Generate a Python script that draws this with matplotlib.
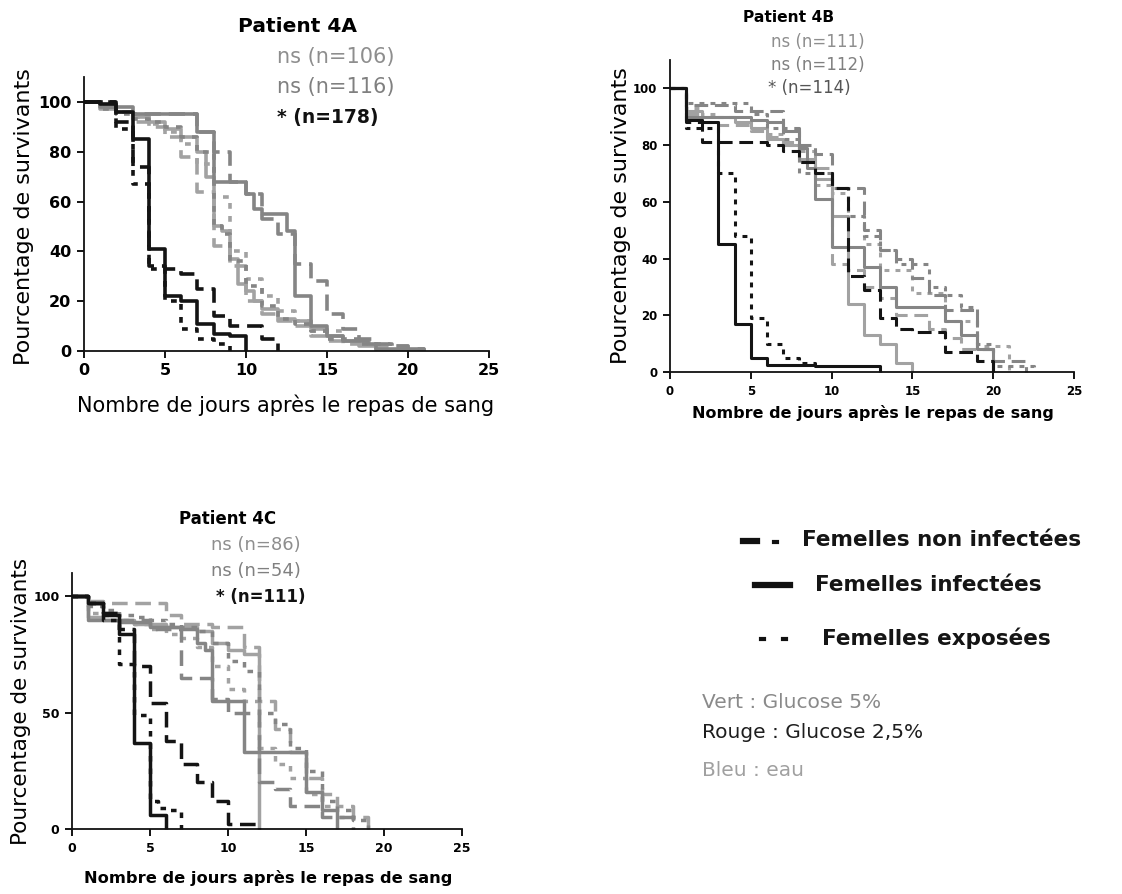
import matplotlib
matplotlib.use("Agg")
from matplotlib import pyplot as plt
from matplotlib.lines import Line2D

W, H = 1122, 894

# colours of the scanned (greyscale) figure
GREEN = "#858585"   # Vert : Glucose 5%
RED = "#141414"     # Rouge : Glucose 2,5%
BLUE = "#a2a2a2"    # Bleu : eau

days_ticks = [0, 5, 10, 15, 20, 25]

# ---------------- Patient 4A ----------------
a_red_inf_d = [0, 1, 2, 3, 4, 5, 6, 7, 8, 9, 10]
a_red_inf_s = [100, 99, 96, 85, 41, 22, 20, 11, 7, 6, 0]
a_red_non_d = [0, 2, 3, 4, 5, 6, 7, 8, 9, 10, 11, 12]
a_red_non_s = [100, 92, 74, 34, 33, 31, 25, 14, 10, 10, 5, 0]
a_red_exp_d = [0, 2, 3, 4, 5, 6, 7, 8, 9]
a_red_exp_s = [100, 89, 67, 33, 20, 9, 5, 3, 0]

a_grn_inf_d = [0, 1, 3, 7, 8, 10, 10.5, 11, 12.5, 13, 14, 15, 16, 17.5, 18, 21]
a_grn_inf_s = [100, 98, 95, 88, 68, 63, 57, 55, 48, 22, 10, 6, 4, 3, 1, 0]
a_grn_non_d = [0, 1, 2, 3, 7, 8, 9, 10, 11, 12, 13, 14, 15, 16, 17, 18, 19, 20, 21]
a_grn_non_s = [100, 98, 96, 95, 88, 80, 68, 63, 53, 47, 35, 28, 15, 9, 5, 3, 2, 1, 0]
a_grn_exp_d = [0, 1, 2, 3, 4, 5, 6, 7, 8, 8.5, 9, 10, 11, 12, 13, 14, 15, 17, 19]
a_grn_exp_s = [100, 97, 95, 93, 92, 90, 86, 80, 50, 47, 36, 26, 18, 13, 11, 8, 5, 3, 0]

a_blu_inf_d = [0, 1, 2, 3, 4, 5, 6, 7, 7.5, 8, 8.5, 9, 9.5, 10, 10.5, 11, 12, 13, 14, 15, 16, 17, 18]
a_blu_inf_s = [100, 97, 96, 94, 92, 89, 86, 80, 70, 50, 48, 37, 27, 24, 20, 17, 13, 12, 9, 6, 4, 2, 0]
a_blu_non_d = [0, 1, 2, 3, 4, 5, 6, 7, 8, 9, 10, 11, 12, 13, 14, 15, 16, 18, 20]
a_blu_non_s = [100, 98, 96, 92, 90, 86, 78, 64, 42, 34, 20, 15, 12, 10, 6, 4, 3, 2, 0]
a_blu_exp_d = [0, 1, 2, 3, 4, 5, 6, 7, 8, 9, 10, 11, 12, 13, 14, 16, 18]
a_blu_exp_s = [100, 99, 96, 94, 91, 88, 83, 75, 62, 40, 29, 22, 16, 12, 8, 4, 0]

# ---------------- Patient 4B ----------------
b_red_inf_d = [0, 1, 2, 3, 4, 5, 6, 9, 13]
b_red_inf_s = [100, 89, 88, 45, 17, 5, 2.5, 2, 0]
b_red_exp_d = [0, 1, 2, 3, 4, 5, 6, 7, 8, 9]
b_red_exp_s = [100, 86, 86, 70, 48, 19, 10, 5, 3, 0]
b_red_non_d = [0, 1, 2, 5, 6, 7, 8, 9, 10, 11, 12, 13, 14, 15, 17, 19, 20]
b_red_non_s = [100, 88, 81, 81, 80, 78, 74, 70, 65, 34, 29, 19, 15, 14, 7, 4, 0]

b_grn_inf_d = [0, 1, 2, 5, 6, 7, 8, 8.5, 9, 10, 12, 13, 14, 17, 18, 19, 20]
b_grn_inf_s = [100, 90, 90, 89, 88, 85, 79, 72, 61, 44, 37, 30, 23, 18, 13, 8, 0]
b_grn_non_d = [0, 1, 4, 7, 8, 9, 10, 12, 13, 14, 15, 16, 17, 19, 20, 22]
b_grn_non_s = [100, 94, 92, 86, 80, 77, 65, 50, 43, 40, 33, 27, 22, 8, 4, 0]
b_grn_exp_d = [0, 1, 4, 5, 6, 7, 8, 10, 11, 12, 13, 14, 16, 17, 18, 19, 20, 22.5]
b_grn_exp_s = [100, 95, 95, 91, 86, 82, 70, 65, 55, 48, 43, 38, 30, 27, 23, 10, 2, 0]

b_blu_inf_d = [0, 1, 2, 4, 5, 6, 7, 8, 9, 10, 11, 12, 13, 14, 15]
b_blu_inf_s = [100, 92, 90, 88, 86, 82, 80, 75, 68, 55, 24, 13, 10, 3, 0]
b_blu_non_d = [0, 1, 2, 3, 5, 6, 7, 8, 9, 10, 11, 12, 13, 14, 16, 17, 18, 20]
b_blu_non_s = [100, 91, 88, 87, 85, 83, 81, 78, 72, 38, 36, 30, 26, 20, 15, 12, 8, 0]
b_blu_exp_d = [0, 1, 2, 3, 4, 5, 6, 7, 8, 9, 10, 11, 12, 13, 15, 17, 19, 21]
b_blu_exp_s = [100, 93, 91, 90, 88, 86, 84, 80, 74, 66, 63, 55, 45, 36, 28, 18, 9, 0]

# ---------------- Patient 4C ----------------
c_red_inf_d = [0, 1, 2, 3, 4, 5, 6]
c_red_inf_s = [100, 97, 92, 84, 37, 6, 0]
c_red_non_d = [0, 1, 2, 3, 4, 5, 6, 7, 8, 9, 10, 12]
c_red_non_s = [100, 97, 93, 86, 70, 54, 38, 28, 20, 12, 2, 0]
c_red_exp_d = [0, 1, 2, 3, 4, 5, 5.5, 6, 7]
c_red_exp_s = [100, 97, 90, 71, 49, 12, 9, 8, 0]

c_grn_inf_d = [0, 1, 3, 5, 7, 8, 8.5, 9, 11, 15, 16, 17]
c_grn_inf_s = [100, 90, 89, 87, 86, 80, 77, 55, 33, 16, 8, 0]
c_grn_non_d = [0, 1, 2, 3, 5, 7, 9, 10, 12, 13, 14, 16, 18]
c_grn_non_s = [100, 97, 93, 90, 86, 65, 56, 50, 20, 17, 10, 5, 0]
c_grn_exp_d = [0, 1, 2, 3, 4, 5, 6, 7, 8, 9, 10, 11, 12, 13, 14, 15, 16, 17, 18, 19]
c_grn_exp_s = [100, 96, 94, 92, 91, 90, 88, 87, 85, 80, 72, 68, 50, 45, 35, 25, 12, 8, 4, 0]

c_blu_inf_d = [0, 1, 2, 4, 6, 8, 9, 10, 11, 12]
c_blu_inf_s = [100, 91, 90, 88, 87, 85, 80, 77, 75, 0]
c_blu_non_d = [0, 1, 2, 6, 7, 9, 11, 12, 13, 14, 15, 16, 17, 18, 19]
c_blu_non_s = [100, 98, 97, 92, 88, 87, 78, 55, 43, 33, 22, 15, 10, 5, 0]
c_blu_exp_d = [0, 1, 2, 3, 4, 5, 6, 7, 8, 9, 10, 11, 12, 13, 14, 15, 16, 17, 18]
c_blu_exp_s = [100, 93, 92, 90, 88, 86, 84, 82, 78, 70, 60, 55, 35, 28, 22, 15, 10, 5, 0]

a_counts = ["ns (n=106)", "ns (n=116)", "* (n=178)"]
b_counts = ["ns (n=111)", "ns (n=112)", "* (n=114)"]
c_counts = ["ns (n=86)", "ns (n=54)", "* (n=111)"]

legend_labels = ["Femelles non infectées", "Femelles infectées", "Femelles exposées"]
colour_labels = ["Vert : Glucose 5%", "Rouge : Glucose 2,5%", "Bleu : eau"]

XLABEL = "Nombre de jours après le repas de sang"
YLABEL = "Pourcentage de survivants"

NON = (0, (4.5, 2.2))     # uninfected
EXP = (0, (1.6, 2.0))     # exposed
INF = "solid"


def fx(x: float) -> float:
    return x / W


def fy(y: float) -> float:
    return 1 - y / H


def make_axes(fig, left, top, right, bottom, yticks, tick_size):
    ax = fig.add_axes([fx(left), fy(bottom), fx(right) - fx(left), fy(top) - fy(bottom)])
    ax.set_xlim(0, 25)
    ax.set_ylim(0, 110)
    ax.spines["top"].set_visible(False)
    ax.spines["right"].set_visible(False)
    for side in ("left", "bottom"):
        ax.spines[side].set_linewidth(1.3)
        ax.spines[side].set_color("#111111")
    ax.set_xticks(days_ticks)
    ax.set_yticks(yticks)
    ax.tick_params(direction="out", length=5, width=1.3, labelsize=tick_size, pad=4)
    for lab in ax.get_xticklabels() + ax.get_yticklabels():
        lab.set_fontweight("bold")
    ax.patch.set_alpha(0)
    return ax


def draw_curves(ax, curves, lw):
    for d, s, colour, style in curves:
        ax.step(d, s, where="post", color=colour, linestyle=style, linewidth=lw,
                solid_capstyle="butt", dash_capstyle="butt", clip_on=False)


fig = plt.figure(figsize=(W / 100, H / 100), dpi=100)
fig.patch.set_facecolor("white")

# ---- panel A
ax_a = make_axes(fig, 84, 77, 489, 351, [0, 20, 40, 60, 80, 100], 11.5)
draw_curves(ax_a, [
    (a_blu_non_d, a_blu_non_s, BLUE, NON), (a_blu_exp_d, a_blu_exp_s, BLUE, EXP),
    (a_blu_inf_d, a_blu_inf_s, BLUE, INF),
    (a_grn_non_d, a_grn_non_s, GREEN, NON), (a_grn_exp_d, a_grn_exp_s, GREEN, EXP),
    (a_grn_inf_d, a_grn_inf_s, GREEN, INF),
    (a_red_non_d, a_red_non_s, RED, NON), (a_red_exp_d, a_red_exp_s, RED, EXP),
    (a_red_inf_d, a_red_inf_s, RED, INF),
], 2.6)
fig.text(fx(298), fy(26), "Patient 4A", ha="center", va="center", fontsize=14.5, fontweight="bold")
for i, (txt, col) in enumerate(zip(a_counts, ["#8e8e8e", "#808080", "#111111"])):
    fig.text(fx(277), fy(57 + 30 * i), txt, ha="left", va="center", color=col,
             fontsize=15 if i < 2 else 13.5, fontweight="normal" if i < 2 else "bold")
fig.text(fx(286), fy(405), XLABEL, ha="center", va="center", fontsize=15)
fig.text(fx(24), fy(217), YLABEL, ha="center", va="center", rotation=90, fontsize=16)

# ---- panel B
ax_b = make_axes(fig, 670, 60, 1074, 372, [0, 20, 40, 60, 80, 100], 8.5)
draw_curves(ax_b, [
    (b_blu_non_d, b_blu_non_s, BLUE, NON), (b_blu_exp_d, b_blu_exp_s, BLUE, EXP),
    (b_blu_inf_d, b_blu_inf_s, BLUE, INF),
    (b_grn_non_d, b_grn_non_s, GREEN, NON), (b_grn_exp_d, b_grn_exp_s, GREEN, EXP),
    (b_grn_inf_d, b_grn_inf_s, GREEN, INF),
    (b_red_non_d, b_red_non_s, RED, NON), (b_red_exp_d, b_red_exp_s, RED, EXP),
    (b_red_inf_d, b_red_inf_s, RED, INF),
], 2.2)
fig.text(fx(789), fy(18), "Patient 4B", ha="center", va="center", fontsize=11.2, fontweight="bold")
for i, (txt, col) in enumerate(zip(b_counts, ["#8e8e8e", "#808080", "#555555"])):
    fig.text(fx(771 if i < 2 else 768), fy(42 + 23 * i), txt, ha="left", va="center",
             color=col, fontsize=12)
fig.text(fx(873), fy(413), XLABEL, ha="center", va="center", fontsize=11.5, fontweight="bold")
fig.text(fx(621), fy(216), YLABEL, ha="center", va="center", rotation=90, fontsize=16)

# ---- panel C
ax_c = make_axes(fig, 72, 573, 462, 829, [0, 50, 100], 9)
draw_curves(ax_c, [
    (c_blu_non_d, c_blu_non_s, BLUE, NON), (c_blu_exp_d, c_blu_exp_s, BLUE, EXP),
    (c_blu_inf_d, c_blu_inf_s, BLUE, INF),
    (c_grn_non_d, c_grn_non_s, GREEN, NON), (c_grn_exp_d, c_grn_exp_s, GREEN, EXP),
    (c_grn_inf_d, c_grn_inf_s, GREEN, INF),
    (c_red_non_d, c_red_non_s, RED, NON), (c_red_exp_d, c_red_exp_s, RED, EXP),
    (c_red_inf_d, c_red_inf_s, RED, INF),
], 2.5)
fig.text(fx(228), fy(519), "Patient 4C", ha="center", va="center", fontsize=12, fontweight="bold")
for i, (txt, col) in enumerate(zip(c_counts, ["#8e8e8e", "#808080", "#111111"])):
    fig.text(fx(211 if i < 2 else 216), fy(545 + 26 * i), txt, ha="left", va="center", color=col,
             fontsize=13 if i < 2 else 12, fontweight="normal" if i < 2 else "bold")
fig.text(fx(268), fy(878), XLABEL, ha="center", va="center", fontsize=11.7, fontweight="bold")
fig.text(fx(21), fy(701), YLABEL, ha="center", va="center", rotation=90, fontsize=15.5)

# ---- legend (drawn by hand like the original)
fig.add_artist(Line2D([fx(743), fx(757)], [fy(541), fy(541)], color="#111111", lw=4.5))
fig.add_artist(Line2D([fx(774), fx(777)], [fy(542), fy(542)], color="#111111", lw=3))
fig.add_artist(Line2D([fx(755), fx(790)], [fy(585), fy(585)], color="#111111", lw=4.5))
fig.add_artist(Line2D([fx(761), fx(764)], [fy(639), fy(639)], color="#111111", lw=3))
fig.add_artist(Line2D([fx(783), fx(786)], [fy(639), fy(639)], color="#111111", lw=3))
for txt, x, y in zip(legend_labels, [802, 815, 822], [540, 585, 638]):
    fig.text(fx(x), fy(y), txt, ha="left", va="center", fontsize=15.5, fontweight="bold", color="#151515")
for txt, y, col in zip(colour_labels, [703, 733, 770], ["#8a8a8a", "#1e1e1e", "#a0a0a0"]):
    fig.text(fx(702), fy(y), txt, ha="left", va="center", fontsize=14.5, color=col)

fig.savefig("out.png", dpi=100)
